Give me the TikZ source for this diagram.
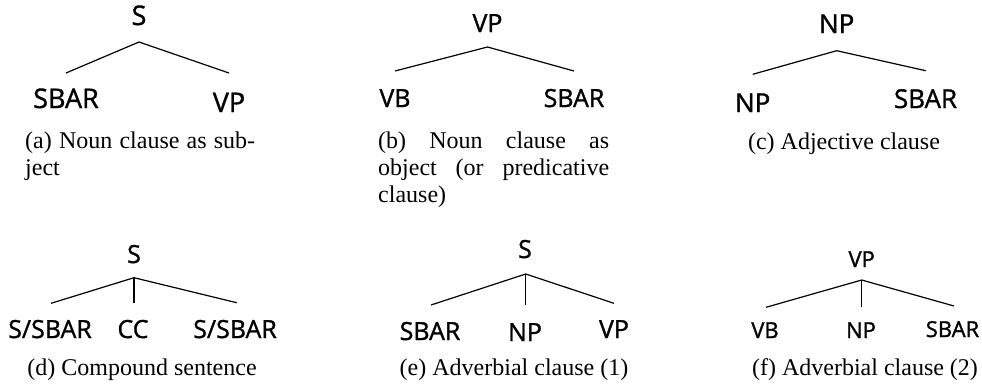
\documentclass[tikz,border=0pt]{standalone}
\usepackage{fontspec}
\setmainfont{Liberation Serif}
\newfontfamily\lblfont{Open Sans}[FakeBold=1.2]
\begin{document}
\begin{tikzpicture}[x=1pt,y=-1pt,
  lbl/.style={font=\lblfont\fontsize{25}{30}\selectfont, anchor=base, inner sep=0pt},
  lbla/.style={font=\lblfont\fontsize{27}{32}\selectfont, anchor=base, inner sep=0pt},
  lblc/.style={font=\lblfont\fontsize{26}{31}\selectfont, anchor=base, inner sep=0pt},
  lbls/.style={font=\lblfont\fontsize{22}{27}\selectfont, anchor=base, inner sep=0pt},
  captxt/.style={font=\fontsize{24}{27}\selectfont, anchor=base, inner sep=0pt},
  captxtl/.style={font=\fontsize{24}{27}\selectfont, anchor=base west, inner sep=0pt},
  conn/.style={line width=1.2pt}]
\useasboundingbox (0,0) rectangle (982,384);
% (a)
\node[lbla] (aS) at (139,25) {S};
\node[lbla] (aL) at (66,108) {SBAR};
\node[lbla] (aR) at (229,112) {VP};
\coordinate (aSb) at (139,42);
\coordinate (aLt) at (66,73);
\coordinate (aRt) at (229,73);
\draw[conn] (aLt) -- (aSb) -- (aRt);
\node[captxtl] (aC) at (25,148) {\vtop{\hbox{\makebox[230pt][s]{(a) Noun clause as sub-}}\hbox{ject}}};
% (b)
\node[lbl] (bS) at (487.5,32) {VP};
\node[lbl] (bL) at (395,107) {VB};
\node[lbl] (bR) at (574,107) {SBAR};
\coordinate (bSb) at (487.5,47);
\coordinate (bLt) at (395,71);
\coordinate (bRt) at (574,71);
\draw[conn] (bLt) -- (bSb) -- (bRt);
\node[captxtl] (bC) at (378,148) {\vtop{\hbox{\makebox[231pt][s]{(b) Noun clause as}}\hbox{\makebox[231pt][s]{object (or predicative}}\hbox{clause)}}};
% (c)
\node[lblc] (cS) at (836.7,33) {NP};
\node[lblc] (cL) at (752.7,112) {NP};
\node[lblc] (cR) at (925.5,108) {SBAR};
\coordinate (cSb) at (836.7,50.7);
\coordinate (cLt) at (752.7,74.3);
\coordinate (cRt) at (925.7,70.7);
\draw[conn] (cLt) -- (cSb) -- (cRt);
\node[captxt] (cC) at (844,149) {(c) Adjective clause};
% (d)
\node[lbl] (dS) at (134,263) {S};
\node[lbl] (dL) at (50,338) {S/SBAR};
\node[lbl] (dM) at (133,338) {CC};
\node[lbl] (dR) at (235,338) {S/SBAR};
\coordinate (dSb) at (134,277.7);
\coordinate (dLt) at (51,303.3);
\coordinate (dMt) at (134,303.3);
\coordinate (dRt) at (236.7,302.7);
\draw[conn] (dLt) -- (dSb) -- (dRt);
\draw[conn] (dSb) -- (dMt);
\node[captxt] (dC) at (142,375) {(d) Compound sentence};
% (e)
\node[lbl] (eS) at (525,258) {S};
\node[lbl] (eL) at (430,340) {SBAR};
\node[lbl] (eM) at (525,341) {NP};
\node[lbl] (eR) at (614,338) {VP};
\coordinate (eSb) at (525.7,274);
\coordinate (eLt) at (431,305);
\coordinate (eMt) at (525.7,305);
\coordinate (eRt) at (614,303.3);
\draw[conn] (eLt) -- (eSb) -- (eRt);
\draw[conn] (eSb) -- (eMt);
\node[captxt] (eC) at (514,375) {(e) Adverbial clause (1)};
% (f)
\node[lbls] (fS) at (861.7,267) {VP};
\node[lbls] (fL) at (765,338) {VB};
\node[lbls] (fM) at (861,338) {NP};
\node[lbls] (fR) at (952.5,337) {SBAR};
\coordinate (fSb) at (861.7,280);
\coordinate (fLt) at (766,307.3);
\coordinate (fMt) at (861.7,307.3);
\coordinate (fRt) at (954,306);
\draw[conn] (fLt) -- (fSb) -- (fRt);
\draw[conn] (fSb) -- (fMt);
\node[captxt] (fC) at (865,375) {(f) Adverbial clause (2)};
\end{tikzpicture}
\end{document}
